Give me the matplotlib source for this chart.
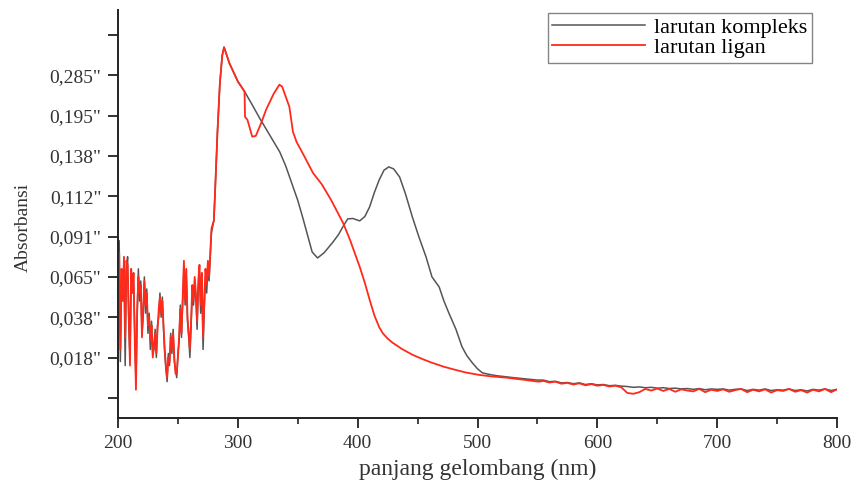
import numpy as np
import matplotlib.pyplot as plt

plt.rcParams['font.family'] = ['Liberation Serif', 'DejaVu Serif']

# y axis: evenly spaced ticks carrying the labels printed in the original figure
ytick_pos = [0, 1, 2, 3, 4, 5, 6, 7, 8, 9]
ytick_lab = ['', '0,018"', '0,038"', '0,065"', '0,091"', '0,112"',
             '0,138"', '0,195"', '0,285"', '']

# noisy UV region 200-278 nm (1 nm steps), values in tick units
wl_noise = np.arange(200, 279)
ligan_noise = [2.0, 3.6, 1.2, 3.2, 2.4, 3.5, 1.5, 3.4, 3.3, 2.0,
               0.8, 3.2, 2.6, 3.1, 1.4, 0.2, 2.2, 3.0, 2.6, 2.8,
               1.5, 2.2, 2.9, 2.3, 2.6, 1.8, 2.0, 1.4, 1.8, 1.0,
               1.3, 1.6, 1.1, 1.7, 2.2, 2.5, 2.1, 2.4, 1.8, 1.2,
               0.8, 0.5, 1.0, 0.9, 1.5, 1.2, 1.6, 1.0, 0.6, 0.6,
               1.0, 1.5, 2.2, 1.6, 2.5, 3.4, 2.4, 3.2, 2.0, 1.6,
               1.2, 1.9, 2.8, 2.4, 3.0, 2.6, 1.9, 2.9, 3.3, 2.3,
               3.1, 1.5, 2.4, 3.2, 2.8, 3.4, 3.0, 3.6, 4.2]
kompleks_noise = [2.2, 3.9, 0.9, 3.0, 2.6, 3.3, 0.8, 3.1, 3.5, 1.8,
                  1.0, 3.0, 2.8, 2.9, 1.6, 0.4, 2.0, 3.2, 2.4, 2.9,
                  1.6, 2.0, 3.0, 2.1, 2.7, 1.6, 2.1, 1.2, 1.9, 1.1,
                  1.2, 1.7, 1.0, 1.8, 2.0, 2.6, 2.0, 2.5, 1.7, 1.1,
                  0.7, 0.4, 1.1, 0.8, 1.6, 1.1, 1.7, 0.9, 0.7, 0.5,
                  1.1, 1.4, 2.3, 1.5, 2.4, 3.2, 2.3, 3.0, 1.9, 1.5,
                  1.0, 1.8, 2.6, 2.3, 2.8, 2.5, 1.7, 2.7, 3.1, 2.1,
                  2.9, 1.2, 2.2, 3.0, 2.6, 3.2, 2.9, 3.5, 4.1]

# rise and main peak (shared by both)
wl_rise = [280, 281, 283, 285, 287, 288.5, 293, 300, 305.6]
val_rise = [4.4, 5.1, 6.6, 7.8, 8.5, 8.7, 8.3, 7.85, 7.6]

# larutan kompleks after 305 nm
wl_k = [312, 318, 324, 330, 335, 340, 346, 350, 354, 358, 362, 366.5,
        372, 379, 384, 387.6, 391.7, 396, 401.7, 406, 410, 414, 418,
        422, 426, 430, 435, 440, 445.6, 451, 457, 462, 468, 472, 476,
        482, 487, 491, 495.6, 500, 504, 510, 515.6, 530, 550]
val_k = [7.27, 6.95, 6.65, 6.35, 6.1, 5.75, 5.24, 4.9, 4.49, 4.05, 3.62,
         3.47, 3.6, 3.85, 4.05, 4.24, 4.44, 4.45, 4.39, 4.5, 4.74, 5.1,
         5.41, 5.65, 5.73, 5.68, 5.48, 5.05, 4.49, 4.0, 3.5, 3.0, 2.75,
         2.4, 2.11, 1.7, 1.27, 1.05, 0.87, 0.72, 0.62, 0.58, 0.55, 0.5,
         0.44]

# larutan ligan after 305 nm
wl_l = [306, 308, 312, 315, 319.5, 323.6, 330, 334.7, 337, 343, 346, 349,
        355, 362.7, 370, 378, 387.8, 393.6, 401.7, 406, 410, 414, 418,
        421, 425, 429, 437, 445.6, 455, 462, 472, 482, 490, 501, 512, 524,
        538, 551]
val_l = [6.97, 6.9, 6.48, 6.5, 6.82, 7.15, 7.55, 7.77, 7.72, 7.22, 6.6,
         6.35, 6.02, 5.58, 5.3, 4.9, 4.34, 3.92, 3.25, 2.85, 2.43, 2.04,
         1.75, 1.6, 1.47, 1.37, 1.21, 1.07, 0.95, 0.87, 0.77, 0.69, 0.63,
         0.57, 0.53, 0.5, 0.45, 0.4]

# baseline 555-800 nm (5 nm steps)
wl_base = np.arange(555, 801, 5)
ligan_base = [0.42, 0.38, 0.40, 0.35, 0.37, 0.33, 0.36, 0.31, 0.34, 0.30,
              0.32, 0.28, 0.30, 0.26, 0.12, 0.10, 0.14, 0.22, 0.18, 0.23,
              0.17, 0.22, 0.15, 0.21, 0.18, 0.16, 0.22, 0.14, 0.20, 0.17,
              0.21, 0.15, 0.19, 0.22, 0.14, 0.20, 0.16, 0.21, 0.13, 0.19,
              0.17, 0.22, 0.15, 0.19, 0.13, 0.20, 0.16, 0.22, 0.14, 0.21]
kompleks_base = [0.44, 0.40, 0.41, 0.37, 0.38, 0.35, 0.37, 0.33, 0.35, 0.32,
                 0.33, 0.30, 0.31, 0.29, 0.28, 0.26, 0.27, 0.25, 0.26, 0.24,
                 0.25, 0.23, 0.24, 0.22, 0.23, 0.21, 0.23, 0.20, 0.22, 0.21,
                 0.22, 0.19, 0.21, 0.22, 0.18, 0.21, 0.19, 0.22, 0.18, 0.20,
                 0.19, 0.22, 0.18, 0.20, 0.17, 0.21, 0.19, 0.22, 0.18, 0.21]

x_k = np.concatenate([wl_noise, wl_rise, wl_k, wl_base])
y_k = np.concatenate([kompleks_noise, val_rise, val_k, kompleks_base])
x_l = np.concatenate([wl_noise, wl_rise, wl_l, wl_base])
y_l = np.concatenate([ligan_noise, val_rise, val_l, ligan_base])

fig = plt.figure(figsize=(8.55, 4.86), dpi=100)
ax = fig.add_axes([0.138, 0.140, 0.841, 0.840])

ax.plot(x_k, y_k, color='#555555', lw=1.1, label='larutan kompleks')
ax.plot(x_l, y_l, color='#ff2a1a', lw=1.3, label='larutan ligan')

ax.set_xlim(200, 800)
ax.set_ylim(-0.5, 9.63)
ax.set_xticks(np.arange(200, 801, 100))
ax.set_xticks(np.arange(250, 800, 100), minor=True)
ax.set_yticks(ytick_pos)
ax.set_yticklabels(ytick_lab)

for s in ['top', 'right']:
    ax.spines[s].set_visible(False)
for s in ['left', 'bottom']:
    ax.spines[s].set_linewidth(1.4)
    ax.spines[s].set_color('#222222')

ax.tick_params(axis='both', which='major', direction='out', length=7,
               width=1.3, labelsize=14, colors='#222222', labelcolor='#333333')
ax.tick_params(axis='x', which='minor', direction='out', length=4.5,
               width=1.2, colors='#222222')
ax.tick_params(axis='y', pad=5)
ax.tick_params(axis='x', pad=5)

ax.set_xlabel('panjang gelombang (nm)', fontsize=17, color='#333333', labelpad=5)
ax.set_ylabel('Absorbansi', fontsize=14, color='#333333')
ax.yaxis.set_label_coords(-0.12, 0.466)

leg = ax.legend(loc='upper right', bbox_to_anchor=(0.965, 0.993),
                borderaxespad=0, fontsize=16, fancybox=False,
                edgecolor='#666666', handlelength=4.2, handletextpad=0.4,
                labelspacing=0.0, borderpad=0.2)
leg.get_frame().set_linewidth(1.0)

fig.savefig('out.png', dpi=100)
